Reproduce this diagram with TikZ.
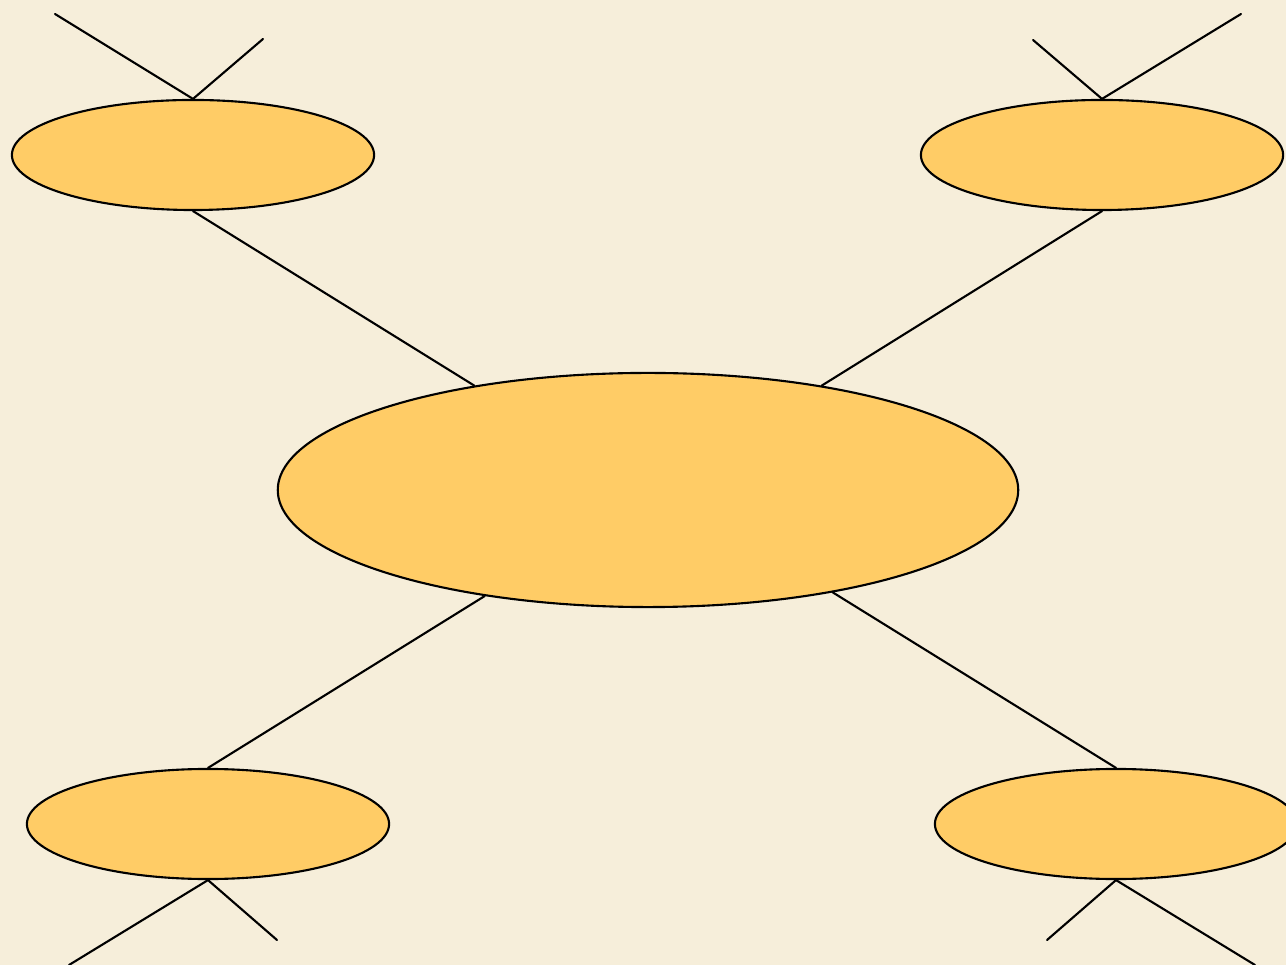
\documentclass[tikz,border=0pt]{standalone}
\usetikzlibrary{shapes.geometric}
\definecolor{parch}{HTML}{F6EEDA}
\definecolor{blobfill}{HTML}{FFCC66}
\begin{document}
\begin{tikzpicture}[x=0.01cm, y=-0.01cm, line join=round, line cap=round,
  blob/.style={ellipse, draw=black, fill=blobfill, line width=0.6pt, inner sep=0pt,
    minimum width=3.62cm, minimum height=1.10cm},
  link/.style={draw=black, line width=0.6pt}]
\useasboundingbox (0,0) rectangle (1286,965);
\fill[parch] (0,0) rectangle (1286,965);
% nodes
\node[blob, minimum width=7.40cm, minimum height=2.34cm] (hub) at (648,490) {};
\node[blob] (tl) at (193,155) {};
\node[blob] (tr) at (1102,155) {};
\node[blob] (bl) at (208,824) {};
\node[blob] (br) at (1116,824) {};
% free ends
\coordinate (tla) at (55,14);
\coordinate (tlb) at (263,39);
\coordinate (tra) at (1241,14);
\coordinate (trb) at (1033,40);
\coordinate (bla) at (69,965);
\coordinate (blb) at (277,940);
\coordinate (bra) at (1047,940);
\coordinate (brb) at (1255,965);
% links
\draw[link] (tla) -- (tl.north) -- (tlb);
\draw[link] (tra) -- (tr.north) -- (trb);
\draw[link] (bla) -- (bl.south) -- (blb);
\draw[link] (bra) -- (br.south) -- (brb);
\draw[link] (tl.south) -- (hub.149);
\draw[link] (tr.south) -- (hub.31);
\draw[link] (bl.north) -- (hub.-147);
\draw[link] (br.north) -- (hub.-29);
\end{tikzpicture}
\end{document}
